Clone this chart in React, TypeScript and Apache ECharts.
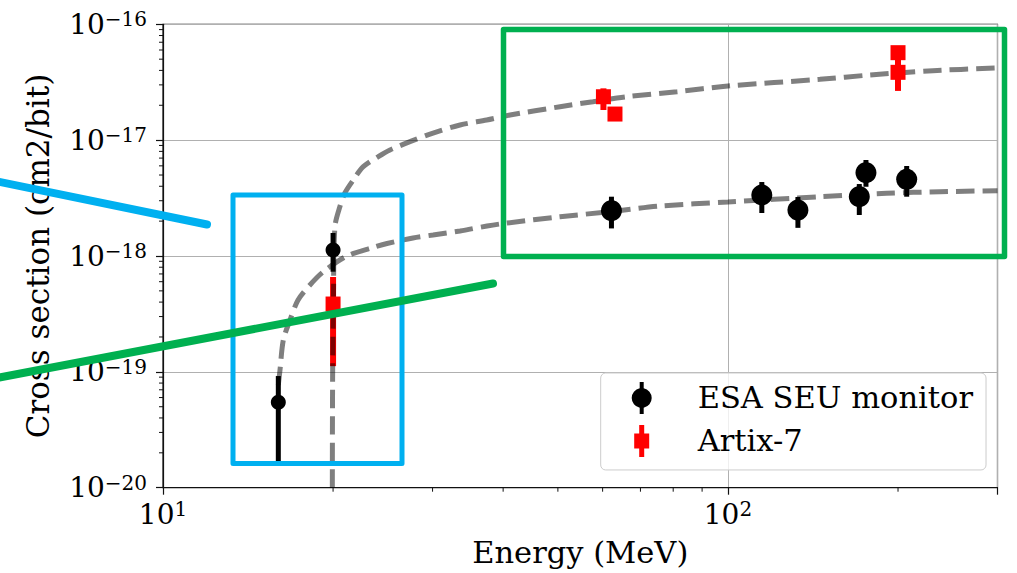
import React, { useEffect, useRef } from 'react';
import * as echarts from 'echarts';

// ESA SEU monitor measurements (MeV, cm2/bit)
const esaEnergy = [16.0, 20.0, 62.2, 114.8, 133, 170.8, 175.5, 207.2];
const esaSigma = [5.46e-20, 1.127e-18, 2.46e-18, 3.36e-18, 2.49e-18, 3.25e-18, 5.24e-18, 4.59e-18];
const esaLow = [1.67e-20, 7.32e-19, 1.73e-18, 2.35e-18, 1.75e-18, 2.26e-18, 3.96e-18, 3.25e-18];
const esaHigh = [9.2e-20, 1.58e-18, 3.25e-18, 4.35e-18, 3.23e-18, 4.18e-18, 6.74e-18, 5.98e-18];

// Artix-7 measurements
const artixEnergy = [20.0, 60.2, 63.1, 200, 200];
const artixSigma = [3.85e-19, 2.37e-17, 1.68e-17, 5.69e-17, 3.85e-17];
const artixLow = [1.12e-19, 1.82e-17, 1.68e-17, 5.69e-17, 2.66e-17];
const artixHigh = [6.59e-19, 2.8e-17, 1.68e-17, 5.69e-17, 4.92e-17];

// Fit curves
const fitArtixE = [19.94, 19.95, 19.97, 20.03, 20.15, 20.56, 20.99, 21.72, 22.62, 24.05, 25.22, 27.36, 30.06, 33.56, 37.41, 41.14, 50.44, 57.68, 66.25, 81.24, 100, 145.5, 178.4, 230.6, 300];
const fitArtixS = [1.0e-20, 3.84e-20, 1.12e-19, 4.17e-19, 1.78e-18, 2.66e-18, 3.5e-18, 4.53e-18, 5.9e-18, 7.2e-18, 8.22e-18, 9.7e-18, 1.152e-17, 1.351e-17, 1.493e-17, 1.648e-17, 1.944e-17, 2.147e-17, 2.371e-17, 2.62e-17, 2.934e-17, 3.35e-17, 3.65e-17, 3.98e-17, 4.196e-17];
const fitEsaE = [16.0, 16.11, 16.33, 16.78, 17.34, 18.2, 19.2, 21.17, 23.53, 24.92, 27.7, 30.06, 33.56, 37.46, 40.63, 50.44, 61.83, 75.8, 100, 145.5, 190.9, 237.3, 300];
const fitEsaS = [7.7e-20, 1.038e-19, 1.884e-19, 2.8e-19, 4.17e-19, 5.62e-19, 7.28e-19, 1.0e-18, 1.184e-18, 1.282e-18, 1.43e-18, 1.518e-18, 1.644e-18, 1.815e-18, 1.926e-18, 2.183e-18, 2.412e-18, 2.7e-18, 2.924e-18, 3.25e-18, 3.48e-18, 3.59e-18, 3.66e-18];

// Minor tick values
const xMinorTicks = [20, 30, 40, 50, 60, 70, 80, 90, 200, 300];
const yMinorTicks = [
  2e-20, 3e-20, 4e-20, 5e-20, 6e-20, 7e-20, 8e-20, 9e-20,
  2e-19, 3e-19, 4e-19, 5e-19, 6e-19, 7e-19, 8e-19, 9e-19,
  2e-18, 3e-18, 4e-18, 5e-18, 6e-18, 7e-18, 8e-18, 9e-18,
  2e-17, 3e-17, 4e-17, 5e-17, 6e-17, 7e-17, 8e-17, 9e-17,
];

const X_MIN = 10;
const X_MAX = 300;
const Y_MIN = 1e-20;
const Y_MAX = 1e-16;

const FONT = 'DejaVu Serif';

const ESA_ICON = 'path://M8,0H12V6.2A10,10 0 0 1 12,25.8V32H8V25.8A10,10 0 0 1 8,6.2Z';
const ARTIX_ICON = 'path://M7.5,0H12.5V8.5H17.5V23.5H12.5V32H7.5V23.5H2.5V8.5H7.5Z';

function powLabel(v: number) {
  const e = Math.log10(v);
  const r = Math.round(e);
  if (Math.abs(e - r) > 1e-6) return '';
  const s = r < 0 ? '\u2212' + Math.abs(r) : String(r);
  return '{b|10}{s|' + s + '}';
}

const labelRich = {
  b: { fontFamily: FONT, fontSize: 28, lineHeight: 30, color: '#000' },
  s: { fontFamily: FONT, fontSize: 20, lineHeight: 20, verticalAlign: 'top', color: '#000' },
};

export default function App() {
  const ref = useRef<HTMLDivElement>(null);
  useEffect(() => {
    document.body.style.margin = '0';
    const chart = echarts.init(ref.current!, null, { renderer: 'svg' });

    const errRender = (width: number, color: string) => (params: any, api: any) => {
      const x = api.value(0);
      const p1 = api.coord([x, api.value(1)]);
      const p2 = api.coord([x, api.value(2)]);
      return {
        type: 'line',
        shape: { x1: p1[0], y1: p1[1], x2: p2[0], y2: p2[1] },
        style: { stroke: color, lineWidth: width },
      };
    };

    const esaErr = esaEnergy.map((e, i) => [e, esaLow[i], esaHigh[i]]);
    const artixErr = artixEnergy.map((e, i) => [e, artixLow[i], artixHigh[i]]);
    const esaPts = esaEnergy.map((e, i) => [e, esaSigma[i]]);
    const artixPts = artixEnergy.map((e, i) => [e, artixSigma[i]]);
    const dash = { color: 'rgba(0,0,0,0.5)', width: 5, type: [18.5, 8] };

    const option: any = {
      animation: false,
      textStyle: { fontFamily: FONT },
      grid: { left: 163, right: 19.5, top: 24.3, bottom: 85.3, show: true, borderColor: '#111', borderWidth: 1.2, outerBoundsMode: 'none' },
      xAxis: {
        type: 'log', logBase: 10, min: X_MIN, max: X_MAX,
        name: 'Energy (MeV)', nameLocation: 'middle', nameGap: 49,
        nameTextStyle: { fontFamily: FONT, fontSize: 30.5, color: '#000' },
        axisLine: { show: true, lineStyle: { color: '#111', width: 1.2 } },
        axisTick: { show: true, length: 7, lineStyle: { color: '#111', width: 1.2 } },
        splitLine: { show: true, lineStyle: { color: '#b0b0b0', width: 1 } },
        axisLabel: { margin: 11.5, formatter: powLabel, rich: labelRich },
      },
      yAxis: {
        type: 'log', logBase: 10, min: Y_MIN, max: Y_MAX,
        name: 'Cross section (cm2/bit)', nameLocation: 'middle', nameGap: 110,
        nameTextStyle: { fontFamily: FONT, fontSize: 31, color: '#000' },
        axisLine: { show: true, lineStyle: { color: '#111', width: 1.2 } },
        axisTick: { show: true, length: 7, lineStyle: { color: '#111', width: 1.2 } },
        splitLine: { show: true, lineStyle: { color: '#b0b0b0', width: 1 } },
        axisLabel: { margin: 16, formatter: powLabel, rich: labelRich },
      },
      legend: {
        left: 600.7, top: 373, orient: 'vertical',
        padding: [9, 13, 13, 31], itemGap: 11, itemWidth: 20, itemHeight: 32,
        backgroundColor: 'rgba(255,255,255,0.8)', borderColor: '#cccccc', borderWidth: 1, borderRadius: 5,
        selectedMode: false,
        textStyle: { fontFamily: FONT, fontSize: 30.5, color: '#000', padding: [0, 0, 0, 41] },
        data: [
          { name: 'ESA SEU monitor', icon: ESA_ICON },
          { name: 'Artix-7', icon: ARTIX_ICON },
        ],
      },
      series: [
        {
          type: 'custom', renderItem: (p: any, api: any) => {
            const c = api.coord([api.value(0), Y_MIN]);
            return { type: 'line', shape: { x1: c[0], y1: c[1], x2: c[0], y2: c[1] + 4 }, style: { stroke: '#111', lineWidth: 1 } };
          },
          data: xMinorTicks.map((v) => [v, Y_MIN]), silent: true, z: 1,
        },
        {
          type: 'custom', renderItem: (p: any, api: any) => {
            const c = api.coord([X_MIN, api.value(1)]);
            return { type: 'line', shape: { x1: c[0], y1: c[1], x2: c[0] - 4, y2: c[1] }, style: { stroke: '#111', lineWidth: 1 } };
          },
          data: yMinorTicks.map((v) => [X_MIN, v]), silent: true, z: 1,
        },
        { type: 'custom', renderItem: errRender(5, '#000'), data: esaErr, encode: { x: 0, y: [1, 2] }, z: 2 },
        { type: 'custom', renderItem: errRender(6, '#ff0000'), data: artixErr, encode: { x: 0, y: [1, 2] }, z: 2 },
        { type: 'line', data: fitArtixE.map((e, i) => [e, fitArtixS[i]]), showSymbol: false, smooth: 0.3, lineStyle: dash, z: 3, silent: true },
        { type: 'line', data: fitEsaE.map((e, i) => [e, fitEsaS[i]]), showSymbol: false, smooth: 0.3, lineStyle: dash, z: 3, silent: true },
        { name: 'ESA SEU monitor', type: 'scatter', data: esaPts.slice(0, 2), symbol: 'circle', symbolSize: 15, itemStyle: { color: '#000', opacity: 1 }, z: 4 },
        { name: 'ESA SEU monitor', type: 'scatter', data: esaPts.slice(2), symbol: 'circle', symbolSize: 21, itemStyle: { color: '#000', opacity: 1 }, z: 4 },
        { name: 'Artix-7', type: 'scatter', data: artixPts, symbol: 'rect', symbolSize: 15, itemStyle: { color: '#ff0000', opacity: 1 }, z: 4 },
      ],
      graphic: [
        { type: 'rect', z: 100, shape: { x: 233, y: 195, width: 169, height: 268.5 }, style: { fill: 'none', stroke: '#00B0F0', lineWidth: 5, lineJoin: 'round' } },
        { type: 'line', z: 100, shape: { x1: -4, y1: 181.2, x2: 207, y2: 224.5 }, style: { stroke: '#00B0F0', lineWidth: 8, lineCap: 'round' } },
        { type: 'rect', z: 100, shape: { x: 503.5, y: 29.5, width: 501, height: 227 }, style: { fill: 'none', stroke: '#00B050', lineWidth: 5.5, lineJoin: 'round' } },
        { type: 'line', z: 100, shape: { x1: -4, y1: 378.2, x2: 493, y2: 283.5 }, style: { stroke: '#00B050', lineWidth: 8, lineCap: 'round' } },
      ],
    };
    chart.setOption(option);
    return () => chart.dispose();
  }, []);
  return <div ref={ref} style={{ width: 1017, height: 573 }} />;
}
